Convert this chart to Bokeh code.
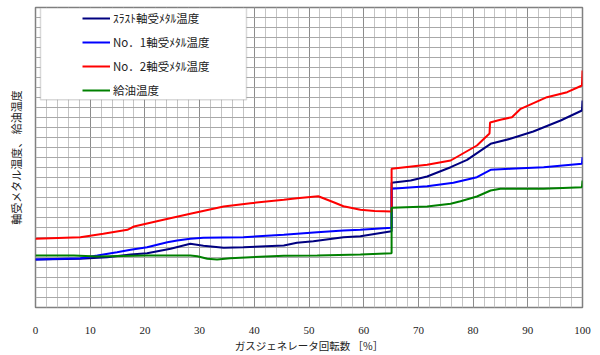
from bokeh.plotting import figure
from bokeh.models import Range1d, FixedTicker, Legend, LegendItem, BoxAnnotation
from bokeh.embed import file_html
from bokeh.resources import INLINE

# ---- data (x: gas generator speed %, y: temperature in chart units) ----
thrust_x = [0, 8.2, 13.1, 17.4, 20.4, 24.7, 28.3, 30.7, 34.4, 38, 45.4, 47.8, 50.8, 56.3, 59.4, 65.1,
            65.1, 68.6, 71.6, 75.9, 78.9, 83.2, 86.8, 91, 96, 99.9, 100]
thrust_y = [4.8, 4.87, 5.03, 5.3, 5.43, 5.87, 6.37, 6.17, 5.97, 6.03, 6.2, 6.47, 6.63, 7.03, 7.13, 7.63,
            12.47, 12.7, 13.1, 14.03, 14.77, 16.37, 16.87, 17.6, 18.7, 19.7, 20.7]

no1_x = [0, 8.2, 11.3, 14.9, 17.4, 20.4, 24.1, 25.9, 28.3, 30.7, 38, 45.4, 51.5, 56.3, 59.4, 65.1,
         65.1, 71.6, 76.4, 80.7, 83.2, 86.8, 92.9, 99.9, 100]
no1_y = [4.8, 4.93, 5.2, 5.53, 5.77, 6.03, 6.53, 6.7, 6.87, 6.97, 7.03, 7.27, 7.53, 7.7, 7.77, 7.97,
         11.87, 12.13, 12.47, 13.03, 13.77, 13.87, 14.03, 14.37, 15.03]

no2_x = [0, 8.2, 12.4, 16.8, 18, 23.4, 28.3, 34.4, 39.3, 45.4, 47.8, 51.7, 54.5, 56.3, 59.4, 62, 65.1,
         65.1, 71.6, 75.9, 80.7, 83.0, 83.1, 85, 87.1, 88.7, 93.5, 97.2, 99.9, 100]
no2_y = [6.87, 7.03, 7.37, 7.77, 8.1, 8.77, 9.37, 10.1, 10.43, 10.77, 10.93, 11.13, 10.53, 10.13, 9.77, 9.65, 9.6,
         13.87, 14.27, 14.7, 16.2, 17.4, 18.5, 18.77, 19.03, 19.87, 21.03, 21.53, 22.2, 23.7]

oil_x = [0, 7, 11.3, 20.4, 28.3, 29.6, 31.4, 33.2, 35.6, 39.3, 45.4, 51.5, 59.4, 65.1,
         65.1, 71.6, 75.9, 77.7, 80.7, 83.2, 85, 92.9, 99.9, 100]
oil_y = [5.2, 5.2, 5.1, 5.2, 5.2, 5.13, 4.87, 4.8, 4.93, 5.03, 5.17, 5.2, 5.3, 5.43,
         9.97, 10.1, 10.37, 10.63, 11.1, 11.7, 11.87, 11.87, 12.03, 12.7]

labels = ["ｽﾗｽﾄ軸受ﾒﾀﾙ温度", "No．1軸受ﾒﾀﾙ温度", "No．2軸受ﾒﾀﾙ温度", "給油温度"]
colors = ["#000080", "#0000ff", "#ff0000", "#008000"]
x_ticks = list(range(0, 101, 10))
x_minor = list(range(0, 101, 2))
y_grid = list(range(0, 31, 1))

CJK = "Noto Sans CJK JP"

p = figure(width=600, height=355, output_backend="svg", toolbar_location=None,
           x_range=Range1d(0, 100), y_range=Range1d(0, 30),
           min_border_left=35, min_border_right=18, min_border_top=7, min_border_bottom=48)
p.background_fill_color = "white"
p.border_fill_color = "white"
p.outline_line_color = "#808080"
p.outline_line_width = 1.5

# x axis
p.xaxis.ticker = FixedTicker(ticks=x_ticks, minor_ticks=x_minor)
p.xaxis.axis_line_color = None
p.xaxis.major_tick_line_color = None
p.xaxis.minor_tick_line_color = None
p.xaxis.major_label_standoff = 13
p.xaxis.major_label_text_font = "Liberation Serif"
p.xaxis.major_label_text_font_size = "11px"
p.xaxis.major_label_text_color = "#222222"
p.xaxis.axis_label = "ガスジェネレータ回転数 ［%］"
p.xaxis.axis_label_text_font = CJK
p.xaxis.axis_label_text_font_size = "10.5px"
p.xaxis.axis_label_text_font_style = "normal"
p.xaxis.axis_label_text_color = "#222222"
p.xaxis.axis_label_standoff = 1

# y axis (no tick labels; grid has its own ticker)
p.yaxis.ticker = FixedTicker(ticks=[])
p.yaxis.axis_line_color = None
p.yaxis.major_tick_line_color = None
p.yaxis.minor_tick_line_color = None
p.yaxis.major_label_standoff = 0
p.yaxis.axis_label = "軸受メタル温度、 給油温度"
p.yaxis.axis_label_text_font = CJK
p.yaxis.axis_label_text_font_size = "11px"
p.yaxis.axis_label_text_font_style = "normal"
p.yaxis.axis_label_text_color = "#222222"
p.yaxis.axis_label_standoff = 12

# grids
p.xgrid.grid_line_color = "#8c8c8c"
p.xgrid.grid_line_width = 1
p.xgrid.minor_grid_line_color = "#c4c4c4"
p.xgrid.minor_grid_line_width = 1
p.ygrid.ticker = FixedTicker(ticks=y_grid)
p.ygrid.grid_line_color = "#a8a8a8"
p.ygrid.grid_line_width = 1

series = [(thrust_x, thrust_y), (no1_x, no1_y), (no2_x, no2_y), (oil_x, oil_y)]
renderers = []
for (xs, ys), c in zip(series, colors):
    r = p.line(xs, ys, line_color=c, line_width=2)
    renderers.append(r)

# legend frame
box = BoxAnnotation(left=0.914, right=38.57, bottom=20.77, top=29.95,
                    fill_color="white", fill_alpha=1.0,
                    line_color="#808080", line_width=1.5, level="annotation")
p.add_layout(box)

legend = Legend(items=[LegendItem(label=l, renderers=[r]) for l, r in zip(labels, renderers)],
                location=(46, 206), padding=1, margin=0, spacing=4,
                glyph_width=28, glyph_height=20, label_height=20,
                label_text_font=CJK, label_text_font_size="11.5px", label_text_color="#222222",
                label_standoff=3,
                border_line_alpha=0, background_fill_alpha=0)
p.add_layout(legend)

open("out.html", "w").write(file_html(p, INLINE))
